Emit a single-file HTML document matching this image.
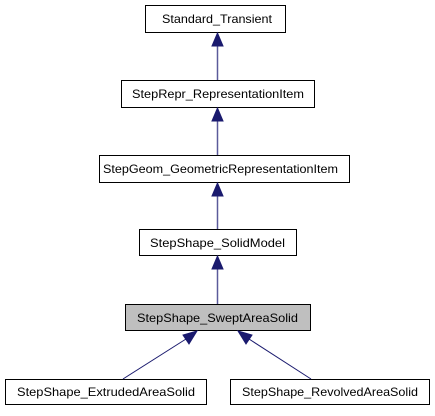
<!DOCTYPE html>
<html><head><style>body{margin:0;background:#fff}</style></head><body>
<svg width="435" height="411" xmlns="http://www.w3.org/2000/svg" font-family="Liberation Sans, Arial, sans-serif" font-size="12">
<g stroke="#000" stroke-width="1">
<rect x="145.5" y="5.5" width="140" height="27" fill="#fff"/>
<rect x="121.5" y="80.5" width="193" height="27" fill="#fff"/>
<rect x="99.5" y="155.5" width="250" height="27" fill="#fff"/>
<rect x="139.5" y="229.5" width="157" height="26" fill="#fff"/>
<rect x="125.5" y="304.5" width="185" height="26" fill="#bfbfbf"/>
<rect x="5.5" y="379.5" width="201" height="25" fill="#fff"/>
<rect x="230.5" y="379.5" width="199" height="25" fill="#fff"/>
</g>
<g stroke="#5a5a9a" stroke-width="1.5">
<line x1="217.5" y1="46" x2="217.5" y2="80"/>
<line x1="217.5" y1="121" x2="217.5" y2="155"/>
<line x1="217.5" y1="196" x2="217.5" y2="229"/>
<line x1="217.5" y1="269" x2="217.5" y2="304"/>
</g>
<g stroke="#1a1a6e" stroke-width="1">
<line x1="123" y1="379" x2="186" y2="339"/>
<line x1="311" y1="379" x2="249" y2="339"/>
</g>
<g fill="#1a1a6e" stroke="#1a1a6e">
<polygon points="217.5,33 212,46 223,46"/>
<polygon points="217.5,108 212,121 223,121"/>
<polygon points="217.5,183 212,196 223,196"/>
<polygon points="217.5,256 212,269 223,269"/>
<polygon points="197,331 183,335 189,344"/>
<polygon points="238,331 246,344 252,335"/>
</g>
<g fill="#000" lengthAdjust="spacingAndGlyphs">
<text x="162" y="23" textLength="110" lengthAdjust="spacingAndGlyphs">Standard_Transient</text>
<text x="132" y="98" textLength="172" lengthAdjust="spacingAndGlyphs">StepRepr_RepresentationItem</text>
<text x="103" y="173" textLength="235" lengthAdjust="spacingAndGlyphs">StepGeom_GeometricRepresentationItem</text>
<text x="150" y="247" textLength="135" lengthAdjust="spacingAndGlyphs">StepShape_SolidModel</text>
<text x="137" y="322" textLength="161" lengthAdjust="spacingAndGlyphs">StepShape_SweptAreaSolid</text>
<text x="17" y="396" textLength="178" lengthAdjust="spacingAndGlyphs">StepShape_ExtrudedAreaSolid</text>
<text x="242" y="396" textLength="176" lengthAdjust="spacingAndGlyphs">StepShape_RevolvedAreaSolid</text>
</g>
</svg>
</body></html>
